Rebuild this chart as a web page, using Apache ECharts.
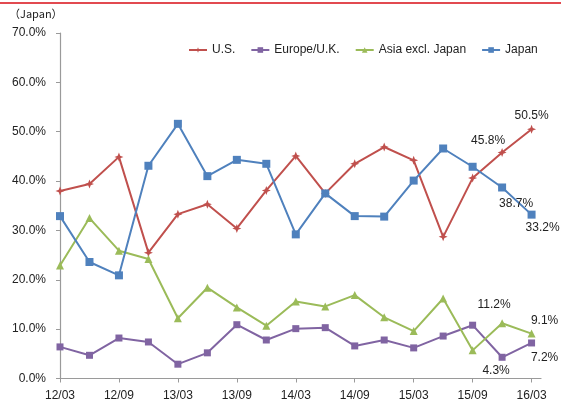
<!DOCTYPE html>
<html>
<head>
<meta charset="utf-8">
<script src="https://cdn.jsdelivr.net/npm/echarts@6/dist/echarts.min.js"></script>
<style>
  html, body { margin: 0; padding: 0; background: #fff; }
  #chart { width: 561px; height: 405px; }
</style>
</head>
<body>
<div id="chart"></div>
<script>
// Quarterly periods (YY/MM)
const quarters = ['12/03','12/06','12/09','12/12','13/03','13/06','13/09','13/12',
                  '14/03','14/06','14/09','14/12','15/03','15/06','15/09','15/12','16/03'];
// Quarters that carry an axis label
const tickQuarters = ['12/03','12/09','13/03','13/09','14/03','14/09','15/03','15/09','16/03'];
// Y-axis tick values (%)
const yTicks = [0, 10, 20, 30, 40, 50, 60, 70];

// Share by region (%)
const usValues     = [38.0, 39.4, 44.9, 25.5, 33.3, 35.3, 30.4, 38.1, 45.1, 37.5, 43.5, 46.9, 44.2, 28.7, 40.6, 45.8, 50.5];
const europeValues = [6.4, 4.7, 8.2, 7.4, 2.9, 5.2, 10.9, 7.8, 10.1, 10.3, 6.6, 7.8, 6.2, 8.6, 10.8, 4.3, 7.2];
const asiaValues   = [22.9, 32.5, 25.9, 24.2, 12.2, 18.4, 14.4, 10.7, 15.6, 14.6, 16.9, 12.4, 9.6, 16.2, 5.7, 11.2, 9.1];
const japanValues  = [32.9, 23.6, 20.9, 43.1, 51.6, 41.0, 44.3, 43.5, 29.2, 37.5, 32.9, 32.8, 40.1, 46.6, 42.9, 38.7, 33.2];

const seriesNames = ['U.S.', 'Europe/U.K.', 'Asia excl. Japan', 'Japan'];
const seriesColors = ['#C0504D', '#8064A2', '#9BBB59', '#4F81BD'];

// Value labels: series index -> { point index: [position, offset] }
const labelSpots = {
  0: { 15: ['top', [-14, 3]], 16: ['top', [0, 1]] },
  1: { 15: ['bottom', [-6, 0]], 16: ['bottom', [13, 1]] },
  2: { 15: ['top', [-8, -5]], 16: ['top', [13, 1]] },
  3: { 15: ['bottom', [14, 2]], 16: ['bottom', [11, -1]] }
};

const font = 'Arial, "Liberation Sans", sans-serif';
const starPath = 'path://M0,-5 L1.4,-1.4 L5,0 L1.4,1.4 L0,5 L-1.4,1.4 L-5,0 L-1.4,-1.4 Z';
const symbols = [starPath, 'rect', 'triangle', 'rect'];
const symbolSizes = [9, 7, 8, 8];

function buildData(values, sIdx) {
  return values.map((v, i) => {
    const item = { value: [i, v] };
    const spot = labelSpots[sIdx][i];
    if (spot) {
      item.label = {
        show: true,
        position: spot[0],
        offset: spot[1],
        distance: 4,
        formatter: v.toFixed(1) + '%',
        color: '#222',
        fontFamily: font,
        fontSize: 12
      };
    }
    return item;
  });
}

const allValues = [usValues, europeValues, asiaValues, japanValues];

const chart = echarts.init(document.getElementById('chart'), null, { renderer: 'canvas' });

chart.setOption({
  animation: false,
  backgroundColor: '#fff',
  textStyle: { fontFamily: font },
  graphic: [
    { type: 'line', shape: { x1: 0, y1: 3, x2: 561, y2: 3 },
      style: { stroke: '#E24A50', lineWidth: 2 } },
    { type: 'text', left: 9, top: 8,
      style: { text: '（Japan）', fontSize: 11, fill: '#222',
               fontFamily: '"Noto Sans CJK JP", sans-serif' } }
  ],
  legend: {
    left: 183,
    top: 39,
    itemWidth: 18,
    itemHeight: 7,
    itemGap: 15,
    textStyle: { fontSize: 12, color: '#222', fontFamily: font },
    data: seriesNames
  },
  grid: { left: 60, right: 20, top: 33, bottom: 26.5, containLabel: false },
  xAxis: {
    type: 'value',
    min: 0,
    max: 16.32,
    splitLine: { show: false },
    axisLine: { show: true, lineStyle: { color: '#9a9a9a', width: 1.2 } },
    axisTick: {
      show: true, length: 4, lineStyle: { color: '#9a9a9a' },
      customValues: tickQuarters.map(q => quarters.indexOf(q))
    },
    axisLabel: {
      customValues: tickQuarters.map(q => quarters.indexOf(q)),
      formatter: v => quarters[Math.round(v)],
      fontSize: 12, color: '#222', margin: 11, fontFamily: font
    }
  },
  yAxis: {
    type: 'value',
    min: yTicks[0],
    max: yTicks[yTicks.length - 1],
    interval: yTicks[1] - yTicks[0],
    splitLine: { show: false },
    axisLine: { show: true, lineStyle: { color: '#9a9a9a', width: 1.2 } },
    axisTick: { show: true, inside: false, length: 4, lineStyle: { color: '#9a9a9a' } },
    axisLabel: {
      formatter: v => v.toFixed(1) + '%',
      fontSize: 12, color: '#222', margin: 14, fontFamily: font
    }
  },
  series: seriesNames.map((name, s) => ({
    name: name,
    type: 'line',
    data: buildData(allValues[s], s),
    symbol: symbols[s],
    symbolSize: symbolSizes[s],
    showAllSymbol: true,
    color: seriesColors[s],
    lineStyle: { width: 2, color: seriesColors[s] },
    itemStyle: { color: seriesColors[s] },
    z: 2 + s
  }))
});
</script>
</body>
</html>
